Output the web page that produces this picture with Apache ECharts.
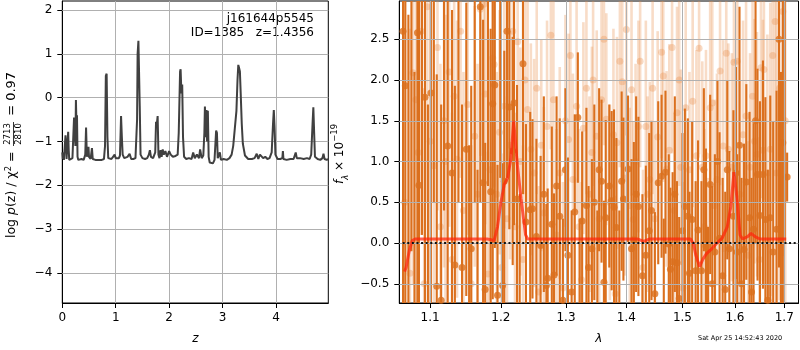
<!DOCTYPE html>
<html><head><meta charset="utf-8">
<script src="https://cdn.jsdelivr.net/npm/echarts/dist/echarts.min.js"></script>
<style>html,body{margin:0;padding:0;background:#fff}#c{width:800px;height:350px}</style>
</head><body><div id="c"></div>
<script>
// ---------- left panel: log p(z) ----------
const pzZ = [0.00,0.01,0.02,0.03,0.05,0.06,0.07,0.08,0.10,0.11,0.12,0.13,0.16,0.19,0.21,0.22,0.235,0.245,0.255,0.265,0.275,0.285,0.30,0.33,0.36,0.40,0.43,0.445,0.46,0.48,0.49,0.50,0.53,0.555,0.57,0.62,0.68,0.74,0.78,0.80,0.815,0.83,0.845,0.86,0.92,0.95,0.98,1.00,1.03,1.06,1.08,1.10,1.115,1.13,1.16,1.19,1.22,1.24,1.26,1.29,1.33,1.37,1.40,1.41,1.425,1.435,1.45,1.465,1.50,1.55,1.59,1.62,1.64,1.66,1.70,1.74,1.755,1.77,1.785,1.80,1.82,1.84,1.86,1.88,1.90,1.93,1.96,2.00,2.03,2.07,2.12,2.16,2.18,2.195,2.205,2.215,2.23,2.245,2.26,2.28,2.32,2.37,2.42,2.45,2.48,2.52,2.56,2.58,2.61,2.64,2.66,2.67,2.685,2.70,2.71,2.725,2.74,2.76,2.79,2.82,2.85,2.87,2.88,2.895,2.91,2.93,2.95,2.97,3.02,3.08,3.13,3.17,3.20,3.23,3.26,3.28,3.295,3.31,3.325,3.34,3.36,3.38,3.42,3.48,3.55,3.60,3.64,3.67,3.70,3.73,3.76,3.80,3.84,3.88,3.92,3.945,3.96,3.975,3.99,4.03,4.08,4.12,4.13,4.14,4.20,4.27,4.33,4.37,4.39,4.45,4.52,4.58,4.63,4.66,4.685,4.70,4.715,4.73,4.78,4.83,4.87,4.89,4.91,4.95,4.98];
const pzLog = [-1.25,-1.40,-1.30,-1.42,-1.40,-0.86,-1.05,-1.40,-1.38,-0.78,-1.20,-1.42,-1.40,-1.38,-1.35,-0.45,-0.48,-1.10,-0.05,-0.60,-0.40,-1.35,-1.42,-1.38,-1.40,-1.42,-1.30,-0.68,-1.35,-1.38,-1.12,-1.35,-1.40,-1.15,-1.40,-1.42,-1.42,-1.42,-1.40,-1.10,0.50,0.55,-0.90,-1.38,-1.40,-1.35,-1.30,-1.38,-1.35,-1.38,-1.32,-0.42,-0.90,-1.30,-1.38,-1.40,-1.35,-1.38,-1.28,-1.40,-1.40,-1.38,-0.50,1.00,1.30,1.30,-0.20,-1.30,-1.38,-1.40,-1.38,-1.30,-1.20,-1.35,-1.38,-1.25,-0.55,-0.60,-0.42,-1.30,-1.38,-1.20,-1.35,-1.18,-1.30,-1.22,-1.35,-1.22,-1.30,-1.35,-1.33,-1.30,-0.80,-0.78,0.60,0.65,0.10,0.30,-0.90,-1.35,-1.40,-1.38,-1.40,-1.25,-1.38,-1.30,-1.38,-1.18,-1.38,-1.32,-0.80,-0.20,-0.90,-0.28,-1.00,-0.30,-1.35,-1.48,-1.45,-1.50,-1.42,-1.40,-0.75,-0.80,-1.38,-1.42,-1.25,-1.42,-1.40,-1.42,-1.38,-1.30,-1.10,-0.70,-0.30,0.40,0.75,0.68,0.60,0.10,-0.60,-1.05,-1.32,-1.40,-1.40,-1.38,-1.28,-1.40,-1.30,-1.27,-1.38,-1.35,-1.40,-1.38,-1.25,-0.60,-0.28,-0.70,-1.30,-1.40,-1.40,-1.38,-1.22,-1.40,-1.42,-1.40,-1.40,-1.25,-1.38,-1.38,-1.40,-1.38,-1.40,-1.30,-0.60,-0.22,-0.80,-1.35,-1.40,-1.42,-1.38,-1.28,-1.40,-1.42,-1.40];
const zTicks = [0,1,2,3,4];
const pzTicks = [-4,-3,-2,-1,0,1,2];

// ---------- right panel: spectrum ----------
const darkLam = [1.064,1.067,1.071,1.075,1.079,1.083,1.085,1.089,1.093,1.097,1.101,1.105,1.109,1.115,1.119,1.124,1.130,1.134,1.139,1.144,1.150,1.154,1.157,1.162,1.166,1.170,1.174,1.177,1.181,1.185,1.188,1.191,1.195,1.199,1.2025,1.205,1.209,1.2125,1.2175,1.2195,1.224,1.228,1.233,1.2375,1.244,1.2475,1.2535,1.260,1.265,1.269,1.271,1.2775,1.281,1.285,1.290,1.295,1.299,1.303,1.309,1.314,1.319,1.322,1.326,1.333,1.3365,1.342,1.346,1.351,1.354,1.358,1.362,1.365,1.371,1.375,1.379,1.383,1.388,1.392,1.395,1.403,1.409,1.413,1.417,1.421,1.428,1.434,1.440,1.444,1.450,1.456,1.462,1.466,1.469,1.475,1.478,1.482,1.486,1.490,1.494,1.500,1.5045,1.510,1.513,1.518,1.5245,1.529,1.5355,1.540,1.544,1.548,1.552,1.556,1.561,1.566,1.570,1.576,1.581,1.585,1.589,1.597,1.602,1.6045,1.609,1.613,1.618,1.6225,1.629,1.633,1.637,1.641,1.645,1.650,1.656,1.661,1.666,1.671,1.677,1.684,1.689,1.693,1.697,1.701,1.706];
const darkFlux = [2.6,1.93,-1.0,3.4,-0.9,2.58,0.71,3.1,1.79,-1.1,1.84,3.5,-0.53,-0.70,3.2,1.19,0.86,-0.27,3.1,-0.30,1.15,-1.0,-0.07,3.3,-0.9,2.9,0.74,-0.57,3.2,0.63,1.71,1.94,-0.64,3.0,-0.52,0.76,2.6,1.67,1.13,1.72,0.54,-0.9,2.2,0.26,0.41,0.42,0.08,-0.03,0.6,-0.52,-0.43,0.23,-0.39,0.7,0.33,-0.70,0.9,-0.15,-0.60,0.38,1.54,-0.8,0.27,0.46,-0.30,-0.07,0.50,-0.8,0.9,0.76,-0.48,0.31,0.70,0.52,0.44,0.19,-0.8,0.76,0.54,0.91,-0.07,0.04,0.6,0.45,-0.40,-0.15,0.15,0.40,-0.62,0.74,0.82,-0.8,0.87,-0.01,-0.32,-0.23,0.6,-0.24,-0.68,0.15,0.45,0.33,-0.37,0.29,-0.34,0.16,-0.34,0.9,-0.04,-0.9,0.72,-0.5,-0.11,1.0,0.06,-0.40,-0.57,0.9,-0.07,0.33,0.86,-0.11,1.2,-0.5,-0.08,0.75,0.31,-0.6,0.17,1.5,0.84,0.34,0.84,0.29,-0.7,0.31,-0.11,0.17,2.5,-0.9,1.23,3.2,0.81];
const darkErr = [3.6,3.2,3.8,3.5,3.0,3.4,3.2,3.0,3.3,2.8,3.0,3.0,2.6,2.4,2.8,2.2,2.0,2.2,2.6,2.0,1.8,2.2,2.0,2.8,1.8,2.4,2.0,1.8,2.5,2.0,2.4,2.0,1.6,2.2,1.5,1.6,1.8,1.5,1.4,1.5,1.4,1.5,1.6,1.2,1.2,1.1,1.2,1.1,1.2,1.0,1.1,1.2,1.0,1.1,1.2,1.0,1.0,1.2,1.0,1.2,0.8,1.1,1.1,1.2,1.0,1.1,1.2,1.2,1.0,1.0,1.0,1.2,1.0,1.1,1.2,1.1,1.2,1.1,1.0,0.9,1.1,1.2,1.2,1.1,1.0,1.1,1.2,1.1,1.0,1.0,1.0,1.1,1.0,1.1,1.0,1.1,1.2,1.0,1.0,1.2,1.2,1.2,1.0,1.2,1.1,1.1,1.1,1.0,1.2,1.1,1.1,1.2,1.2,1.0,1.3,1.2,1.2,1.1,1.2,1.3,1.3,1.2,1.7,1.3,1.3,1.2,1.3,1.4,1.3,1.5,1.3,1.4,1.4,1.5,1.6,1.5,1.6,1.7,2.8,3.0,3.5,3.2,0.3];
const lightLam = [1.066,1.073,1.077,1.081,1.084,1.088,1.092,1.096,1.100,1.105,1.110,1.114,1.119,1.121,1.126,1.130,1.133,1.137,1.142,1.146,1.152,1.157,1.162,1.166,1.170,1.175,1.177,1.181,1.184,1.188,1.190,1.194,1.198,1.201,1.205,1.209,1.2135,1.2175,1.221,1.225,1.229,1.233,1.236,1.240,1.245,1.250,1.254,1.257,1.261,1.265,1.270,1.276,1.280,1.285,1.290,1.295,1.299,1.304,1.307,1.311,1.317,1.321,1.325,1.328,1.333,1.338,1.342,1.344,1.350,1.354,1.358,1.362,1.366,1.372,1.378,1.381,1.384,1.389,1.393,1.397,1.400,1.406,1.409,1.412,1.416,1.421,1.424,1.429,1.434,1.437,1.441,1.446,1.450,1.455,1.462,1.465,1.471,1.476,1.481,1.485,1.490,1.494,1.497,1.501,1.506,1.513,1.519,1.526,1.531,1.537,1.541,1.544,1.548,1.552,1.556,1.561,1.565,1.571,1.577,1.583,1.587,1.594,1.598,1.6045,1.610,1.616,1.622,1.626,1.630,1.635,1.639,1.644,1.649,1.652,1.656,1.658,1.665,1.671,1.676,1.681,1.684,1.690,1.697,1.702];
const lightFlux = [0.5,-0.37,2.09,1.76,1.11,2.6,-0.5,2.9,1.25,0.95,2.4,0.2,1.50,1.0,2.1,-0.2,1.8,1.03,2.6,0.4,1.7,-0.5,1.31,0.6,2.87,2.93,1.83,-0.38,0.9,2.27,2.19,0.6,1.36,-0.3,1.68,0.3,1.2,2.6,0.2,2.47,1.0,-0.2,2.0,1.64,1.15,0.86,1.9,-0.6,1.2,0.37,1.43,2.55,1.76,0.1,0.86,-0.55,1.5,1.27,2.3,0.78,1.68,0.2,-0.45,1.41,1.90,0.6,1.11,2.0,1.31,0.3,1.76,2.5,1.52,0.50,1.33,-0.62,1.23,2.23,1.98,0.8,2.62,0.46,1.88,0.29,1.0,1.43,2.23,-0.3,1.43,0.6,0.78,1.9,0.3,1.3,2.34,2.05,0.91,1.14,2.4,0.4,1.6,2.0,0.93,-0.55,1.66,0.90,1.74,1.07,2.39,0.93,0.2,1.07,-0.5,1.66,1.72,0.46,0.78,2.11,1.19,2.33,1.15,0.93,2.22,2.23,0.6,1.33,1.56,-0.15,0.93,1.8,1.25,1.09,-0.2,2.15,1.14,2.13,0.86,1.15,2.3,2.72,0.86,1.9,2.84,1.5];
const lightErr = [3.5,3.0,2.6,2.5,2.4,2.5,2.4,2.4,2.2,2.0,2.0,2.0,1.8,1.8,1.9,1.8,1.8,1.7,1.8,1.7,1.6,1.7,1.6,1.6,1.8,1.7,1.6,1.5,1.6,1.6,1.5,1.5,1.5,1.4,1.5,1.5,1.4,1.5,1.4,1.5,1.4,1.4,1.4,1.4,1.3,1.4,1.3,1.3,1.3,1.3,1.3,1.4,1.3,1.3,1.3,1.3,1.3,1.3,1.3,1.3,1.3,1.2,1.2,1.3,1.3,1.2,1.3,1.3,1.3,1.2,1.3,1.3,1.3,1.2,1.3,1.2,1.3,1.3,1.3,1.2,1.3,1.2,1.3,1.2,1.2,1.3,1.3,1.2,1.3,1.2,1.2,1.3,1.2,1.3,1.3,1.3,1.2,1.3,1.3,1.2,1.3,1.3,1.2,1.3,1.3,1.2,1.3,1.3,1.3,1.3,1.2,1.3,1.3,1.4,1.3,1.3,1.3,1.4,1.3,1.4,1.3,1.4,1.4,1.4,1.4,1.4,1.4,1.4,1.4,1.5,1.5,1.5,1.5,1.6,1.6,1.6,1.7,1.8,2.0,2.2,2.3,2.6,3.0,3.0];
const modelLam = [1.066,1.068,1.072,1.076,1.080,1.09,1.12,1.15,1.18,1.186,1.190,1.195,1.200,1.205,1.210,1.215,1.219,1.224,1.230,1.237,1.240,1.30,1.36,1.42,1.43,1.44,1.48,1.51,1.515,1.520,1.525,1.532,1.538,1.545,1.555,1.565,1.575,1.585,1.592,1.598,1.604,1.610,1.615,1.625,1.632,1.640,1.650,1.68,1.704];
const modelFlux = [-0.35,-0.30,-0.10,0.03,0.05,0.05,0.05,0.05,0.05,0.04,0.03,0.20,0.50,0.72,0.80,1.05,1.50,1.00,0.55,0.10,0.05,0.05,0.05,0.05,0.02,0.05,0.05,0.05,0.05,0.00,-0.15,-0.29,-0.20,-0.13,-0.07,0.00,0.06,0.20,0.45,0.87,0.55,0.10,0.05,0.08,0.12,0.08,0.05,0.05,0.05];
const lamTicks = [1.1,1.2,1.3,1.4,1.5,1.6,1.7];
const fluxTicks = [-0.5,0.0,0.5,1.0,1.5,2.0,2.5];
const zeroLineLam = [1.0635,1.73];

const FONT = 'DejaVu Sans';
const ORANGE = 'rgb(219,112,30)';
const LIGHT_BAR = 'rgba(232,140,70,0.3)';
const LIGHT_DOT = 'rgba(232,140,70,0.4)';
const GRIDC = '#b0b0b0';
const minusFmt = (v, d) => { const s = Math.abs(v).toFixed(d); return (v < -1e-9 ? '\u2212' : '') + s; };

function errRender(color, width) {
  return function (params, api) {
    const lam = api.value(0), f = api.value(1), e = api.value(2);
    const p1 = api.coord([lam, f - e]);
    const p2 = api.coord([lam, f + e]);
    const cs = params.coordSys;
    const clamp = y => Math.min(Math.max(y, cs.y), cs.y + cs.height);
    return { type: 'line', shape: { x1: p1[0], y1: clamp(p1[1]), x2: p2[0], y2: clamp(p2[1]) },
      style: { stroke: color, lineWidth: width } };
  };
}

const pzData = pzZ.map((z, i) => [z, pzLog[i]]);
const darkData = darkLam.map((l, i) => [l, darkFlux[i], darkErr[i]]);
const lightData = lightLam.map((l, i) => [l, lightFlux[i], lightErr[i]]);
const modelData = modelLam.map((l, i) => [l, modelFlux[i]]);
const zeroData = zeroLineLam.map(l => [l, 0]);

const axisLbl = { fontFamily: FONT, fontSize: 12, color: '#000' };
const tick = { show: true, inside: false, length: 5, lineStyle: { color: '#000', width: 1 } };
const axLine = { show: true, onZero: false, lineStyle: { color: '#000', width: 1 } };

const chart = echarts.init(document.getElementById('c'), null, { renderer: 'canvas' });
chart.setOption({
  animation: false,
  grid: [
    { left: 62.3, right: 471.7, top: 1, bottom: 46.3, show: true, borderColor: '#000', borderWidth: 1 },
    { left: 399.3, right: 1.5, top: 1, bottom: 46, show: true, borderColor: '#000', borderWidth: 1 }
  ],
  xAxis: [
    { gridIndex: 0, type: 'value', min: 0, max: 4.98, axisLine: axLine, axisTick: Object.assign({}, tick, { customValues: zTicks }),
      axisLabel: Object.assign({}, axisLbl, { margin: 9, customValues: zTicks, formatter: v => minusFmt(v, 0) }),
      splitLine: { show: false },
      name: 'z', nameLocation: 'middle', nameGap: 30, nameTextStyle: { fontFamily: FONT, fontSize: 12, fontStyle: 'italic', color: '#000' } },
    { gridIndex: 1, type: 'log', logBase: 10, min: 1.0591, max: 1.730, axisLine: axLine,
      axisTick: Object.assign({}, tick, { customValues: lamTicks }),
      axisLabel: Object.assign({}, axisLbl, { margin: 9, customValues: lamTicks, formatter: v => Number(v).toFixed(1) }),
      splitLine: { show: false }, minorTick: { show: false },
      name: '\u03bb', nameLocation: 'middle', nameGap: 30, nameTextStyle: { fontFamily: FONT, fontSize: 12, fontStyle: 'italic', color: '#000' } }
  ],
  yAxis: [
    { gridIndex: 0, type: 'value', min: -4.69, max: 2.21, axisLine: axLine, axisTick: Object.assign({}, tick, { customValues: pzTicks }),
      axisLabel: Object.assign({}, axisLbl, { margin: 10, customValues: pzTicks, formatter: v => minusFmt(v, 0) }),
      splitLine: { show: false } },
    { gridIndex: 1, type: 'value', min: -0.735, max: 2.97, axisLine: axLine, axisTick: Object.assign({}, tick, { customValues: fluxTicks }),
      axisLabel: Object.assign({}, axisLbl, { margin: 10, customValues: fluxTicks, formatter: v => minusFmt(v, 1) }),
      splitLine: { show: false } }
  ],
  series: [
    { type: 'line', xAxisIndex: 0, yAxisIndex: 0, data: pzData, showSymbol: false, z: 3,
      lineStyle: { color: '#404040', width: 2 }, silent: true,
      markLine: { silent: true, symbol: 'none', z: 1, label: { show: false }, animation: false,
        lineStyle: { color: GRIDC, width: 1, type: 'solid' },
        data: zTicks.filter(v => v > 0).map(v => ({ xAxis: v })).concat(pzTicks.map(v => ({ yAxis: v }))) } },
    { type: 'custom', xAxisIndex: 1, yAxisIndex: 1, data: lightData, renderItem: errRender(LIGHT_BAR, 2.6), z: 1, silent: true,
      encode: { x: 0, y: 1 } },
    { type: 'scatter', xAxisIndex: 1, yAxisIndex: 1, data: lightData.map(d => [d[0], d[1]]), symbolSize: 7, z: 1.5, silent: true,
      itemStyle: { color: LIGHT_DOT } },
    { type: 'custom', xAxisIndex: 1, yAxisIndex: 1, data: darkData, renderItem: errRender(ORANGE, 2.1), z: 2, silent: true,
      encode: { x: 0, y: 1 } },
    { type: 'scatter', xAxisIndex: 1, yAxisIndex: 1, data: darkData.map(d => [d[0], d[1]]), symbolSize: 7, z: 3, silent: true,
      itemStyle: { color: ORANGE } },
    { type: 'line', xAxisIndex: 1, yAxisIndex: 1, data: modelData, showSymbol: false, z: 6, silent: true,
      lineStyle: { color: 'rgba(255,35,10,0.72)', width: 3 } },
    { type: 'line', xAxisIndex: 1, yAxisIndex: 1, data: zeroData, showSymbol: false, z: 7, silent: true,
      lineStyle: { color: '#111', width: 2, type: [2, 2.6] },
      markLine: { silent: true, symbol: 'none', z: 4, label: { show: false }, animation: false,
        lineStyle: { color: GRIDC, width: 1, type: 'solid' },
        data: lamTicks.map(v => ({ xAxis: v })).concat(fluxTicks.map(v => ({ yAxis: v }))) } }
  ],
  graphic: [
    { type: 'text', right: 800 - 314, top: 13, style: { text: 'j161644p5545', font: '12px "DejaVu Sans"', fill: '#000', align: 'right' } },
    { type: 'text', right: 800 - 314, top: 27, style: { text: 'ID=1385   z=1.4356', font: '12px "DejaVu Sans"', fill: '#000', align: 'right' } },
    { type: 'group', x: 11.5, y: 238, rotation: Math.PI / 2, children: [
      { type: 'text', x: 0, y: 0, style: { text: '{n|log }{i|p}{n|(z) / \u03c7}{s|2}{n| =}', verticalAlign: 'middle', align: 'left',
        rich: { n: { fontFamily: FONT, fontSize: 12.5, fill: '#000' }, i: { fontFamily: FONT, fontSize: 12.5, fontStyle: 'italic', fill: '#000' },
          s: { fontFamily: FONT, fontSize: 8.5, fill: '#000', verticalAlign: 'top', padding: [0, 0, 6, 0] } } } },
      { type: 'text', x: 104, y: -3.5, style: { text: '2713', font: '8.5px "DejaVu Sans"', fill: '#000', align: 'center', verticalAlign: 'middle' } },
      { type: 'line', shape: { x1: 92, y1: 2, x2: 116, y2: 2 }, style: { stroke: '#000', lineWidth: 0.8 } },
      { type: 'text', x: 104, y: 7.5, style: { text: '2810', font: '8.5px "DejaVu Sans"', fill: '#000', align: 'center', verticalAlign: 'middle' } },
      { type: 'text', x: 118, y: 0, style: { text: ' = 0.97', font: '13px "DejaVu Sans"', fill: '#000', align: 'left', verticalAlign: 'middle' } }
    ] },
    { type: 'group', x: 340, y: 154, rotation: Math.PI / 2, children: [
      { type: 'text', x: 0, y: 0, style: { text: '{i|f}{sub|\u03bb}{n| \u00d7 10}{sup|\u221219}', align: 'center', verticalAlign: 'middle',
        rich: { n: { fontFamily: FONT, fontSize: 12, fill: '#000', lineHeight: 20 }, i: { fontFamily: FONT, fontSize: 12, fontStyle: 'italic', fill: '#000', lineHeight: 20 },
          sub: { fontFamily: FONT, fontSize: 8.5, fontStyle: 'italic', fill: '#000', verticalAlign: 'bottom', lineHeight: 20 },
          sup: { fontFamily: FONT, fontSize: 8.5, fill: '#000', verticalAlign: 'top', lineHeight: 20 } } } }
    ] },
    { type: 'text', left: 698, top: 335, style: { text: 'Sat Apr 25 14:52:43 2020', font: '6.5px "DejaVu Sans"', fill: '#000' } }
  ]
});
</script></body></html>
